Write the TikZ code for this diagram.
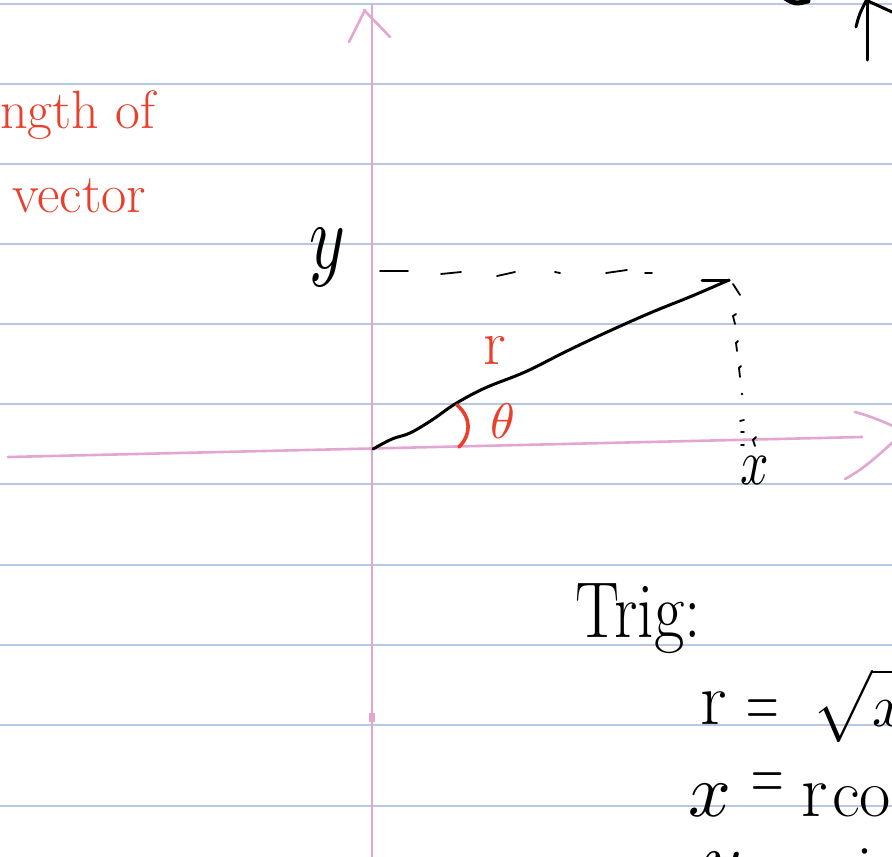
\documentclass[tikz,border=0pt]{standalone}
\usepackage{fontspec}
\usepackage{unicode-math}
\setmathfont{Latin Modern Math}
\definecolor{ruleblue}{HTML}{B8C8DF}
\definecolor{axispink}{HTML}{E2A6D0}
\definecolor{inkred}{HTML}{E8402C}
\begin{document}
\begin{tikzpicture}[x=1pt,y=-1pt,
  ruleline/.style={draw=ruleblue, line width=1.2pt},
  axisline/.style={draw=axispink, line width=2.6pt, line cap=round, line join=round},
  pen/.style={draw=black, line width=3pt, line cap=round, line join=round},
  thinpen/.style={draw=black, line width=1.8pt, line cap=round},
  redpen/.style={draw=inkred, line width=3.6pt, line cap=round},
  redtext/.style={text=inkred, inner sep=0pt},
  blacktext/.style={text=black, inner sep=0pt},
  eqsign/.style={blacktext, anchor=center, font=\fontsize{60}{66}\selectfont}]
\useasboundingbox (0,0) rectangle (892,857);
\clip (0,0) rectangle (892,857);
\fill[white] (0,0) rectangle (892,857);
% ruled paper
\foreach \yy in {4,84,164,244,324,404,484,565,645,725,806}
  \draw[ruleline] (0,\yy) -- (892,\yy);
% pink axes
\coordinate (ytop) at (372,5);
\coordinate (ybot) at (372,860);
\coordinate (xleft) at (8,457);
\coordinate (xright) at (862,437);
\draw[axisline] (ybot) -- (ytop);
\draw[axisline] (349,42) -- (365,10);
\draw[axisline] (364,10) -- (390,37);
\fill[axispink] (369,713) rectangle (375,722);
\draw[axisline] (xleft) -- (xright);
\draw[axisline] (855,412) .. controls (870,416) and (882,421) .. (895,427);
\draw[axisline] (845,479) .. controls (862,470) and (878,456) .. (895,440);
% vector r
\coordinate (O) at (373,449);
\coordinate (P) at (729,280);
\draw[pen] plot[smooth, tension=0.6] coordinates {(373,449) (392,439) (410,433) (432,420) (455,404) (485,388) (525,372) (565,352) (605,333) (650,313) (692,296) (729,280)};
\draw[pen] (P) -- (702,280);
% dashed projection to y
\draw[thinpen] (380,271) -- (408,271);
\draw[thinpen] (441,274) -- (461,272);
\draw[thinpen] (497,276) -- (515,272);
\draw[thinpen] (555,272) -- (560,273);
\draw[thinpen] (606,273) -- (627,270);
\draw[thinpen] (645,273) -- (652,273);
% dotted projection to x
\draw[thinpen] (733,284) -- (740,295);
\draw[thinpen] (735,324) -- (733,316) -- (736,314);
\draw[thinpen] (737,351) -- (736,343) -- (738,341);
\draw[thinpen] (740,377) -- (739,368) -- (741,366);
\fill (742,394) circle (1.4);
\draw[thinpen] (740,421) -- (744,420);
\draw[thinpen] (741,432) -- (744,432);
\draw[thinpen] (741,445) -- (744,445);
\draw[thinpen] (755,446) -- (753,440) -- (756,437);
% labels on the sketch
\node[redtext, anchor=base west, font=\fontsize{54}{60}\selectfont] (len) at (0,128) {ngth of};
\node[redtext, anchor=base west, font=\fontsize{55}{60}\selectfont] (vec) at (12,212) {vector};
\node[redtext, anchor=base, font=\fontsize{64}{70}\selectfont] (rlab) at (495,364) {r};
\node[redtext, anchor=base, font=\fontsize{50}{60}\selectfont] (thlab) at (503,438) {$\theta$};
\draw[redpen] (457,405) .. controls (472,418) and (471,435) .. (459,447);
\node[blacktext, anchor=base, font=\fontsize{62}{70}\selectfont] (ylab) at (327,268) {\scalebox{1.1}[1.5]{$y$}};
\node[blacktext, anchor=base, font=\fontsize{50}{60}\selectfont] (xlab) at (755,484) {\scalebox{1}[1.3]{$x$}};
% top right arrow and stroke
\draw[pen] (867,60) -- (867,1);
\draw[pen] (856,27) .. controls (859,15) .. (866,1);
\draw[pen] (868,1) -- (892,12);
\draw[pen, line width=5pt] (785,-2) .. controls (795,4) .. (808,1);
% Trig notes
\node[blacktext, anchor=base west, font=\fontsize{66}{70}\selectfont] (trig) at (575,637) {\scalebox{1}[1.2]{Trig:}};
\node[blacktext, anchor=base west, font=\fontsize{75}{80}\selectfont] (r1) at (700,724) {r};
\node[eqsign] (eq1) at (763,714) {\scalebox{0.75}[1.3]{=}};
\node[blacktext, anchor=base west, font=\fontsize{60}{70}\selectfont] (sq) at (812,726) {$\sqrt{x^2+y^2}$};
\node[blacktext, anchor=base west, font=\fontsize{75}{80}\selectfont] (x2) at (688,816) {$x$};
\node[eqsign] (eq2) at (768,787) {\scalebox{0.75}[1.3]{=}};
\node[blacktext, anchor=base west, font=\fontsize{75}{80}\selectfont] (r2) at (801,816) {r};
\node[blacktext, anchor=base west, font=\fontsize{68}{80}\selectfont] (cos2) at (832,816) {cos\,$\theta$};
\node[blacktext, anchor=base west, font=\fontsize{75}{80}\selectfont] (y3) at (702,884) {$y$};
\node[eqsign] (eq3) at (768,878) {\scalebox{0.75}[1.3]{=}};
\node[blacktext, anchor=base west, font=\fontsize{75}{80}\selectfont] (r3) at (801,892) {r};
\node[blacktext, anchor=base west, font=\fontsize{68}{80}\selectfont] (sin3) at (832,892) {sin\,$\theta$};
\end{tikzpicture}
\end{document}
